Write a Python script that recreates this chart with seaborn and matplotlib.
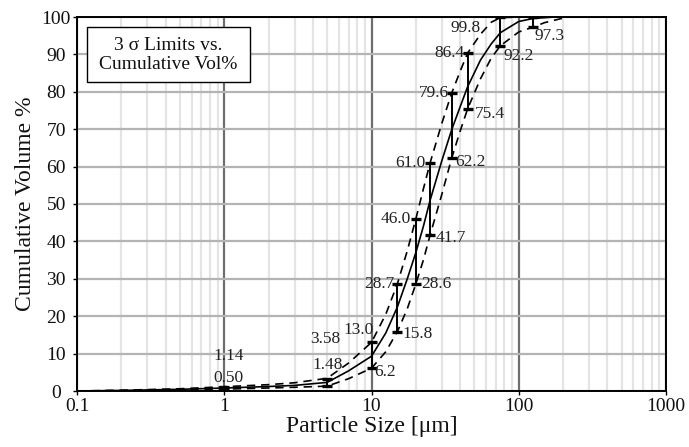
import numpy as np
import pandas as pd
import matplotlib
matplotlib.use("Agg")
import matplotlib.pyplot as plt
from matplotlib.patches import Rectangle
from matplotlib.ticker import FixedLocator, NullFormatter
import seaborn as sns

# ---------------- data ----------------
size_upper = [0.1, 0.2, 0.5, 1, 2, 3, 5, 7, 10, 12.5, 15, 17.5, 20, 22.5, 25,
              30, 35, 40, 45, 55, 65, 75, 100, 200, 1000]
vol_upper = [0.0, 0.2, 0.6, 1.14, 1.7, 2.2, 3.4, 7.5, 13.0, 20.5, 28.7, 37.5, 46.0,
             54.0, 61.0, 71.5, 79.6, 85.5, 90.4, 95.4, 98.6, 99.8, 100, 100, 100]

size_mid = [0.1, 0.2, 0.5, 1, 2, 3, 5, 7, 10, 12.5, 15, 17.5, 20, 22.5, 25,
            30, 35, 40, 45, 55, 65, 75, 100, 125, 175, 1000]
vol_mid = [0.0, 0.15, 0.45, 0.8, 1.2, 1.5, 2.3, 5.4, 9.3, 15.5, 22.5, 30.0, 37.0,
           44.0, 51.0, 61.5, 69.8, 76.0, 81.4, 88.5, 92.8, 95.8, 98.8, 99.6, 100, 100]

size_lower = [0.1, 0.2, 0.5, 1, 2, 3, 5, 7, 10, 12.5, 15, 17.5, 20, 22.5, 25,
              30, 35, 40, 45, 55, 65, 75, 100, 125, 150, 200, 215, 1000]
vol_lower = [0.0, 0.1, 0.3, 0.5, 0.8, 1.0, 1.3, 3.3, 6.1, 10.5, 15.9, 22.0, 28.6,
             35.0, 41.7, 52.5, 62.2, 69.5, 75.5, 83.5, 89.0, 92.3, 96.0, 97.3, 98.5,
             99.7, 100, 100]

bar_size = [1, 5, 10, 15, 20, 25, 35, 45, 75, 125]
bar_top = [1.14, 3.3, 13.0, 28.7, 46.0, 61.0, 79.6, 90.4, 99.9, 100.0]
bar_bottom = [0.50, 1.3, 6.2, 15.8, 28.6, 41.7, 62.2, 75.4, 92.2, 97.3]
top_labels = ["1.14", "3.58", "13.0", "28.7", "46.0", "61.0", "79.6", "86.4", "99.8", None]
bottom_labels = ["0.50", "1.48", "6.2", "15.8", "28.6", "41.7", "62.2", "75.4", "92.2", "97.3"]

x_ticks = [0.1, 1, 10, 100, 1000]
x_tick_labels = ["0.1", "1", "10", "100", "1000"]
y_ticks = [0, 10, 20, 30, 40, 50, 60, 70, 80, 90, 100]

# ---------------- style ----------------
sns.set_theme(style="white")
plt.rcParams["font.family"] = ["Liberation Serif", "DejaVu Serif"]

DPI = 100
fig = plt.figure(figsize=(6.89, 4.47), dpi=DPI)
ax = fig.add_axes([77 / 689, 1 - 391 / 447, 589 / 689, 374 / 447])

px = 72.0 / DPI  # points per pixel

# curves
df_u = pd.DataFrame({"size": size_upper, "vol": vol_upper})
df_m = pd.DataFrame({"size": size_mid, "vol": vol_mid})
df_l = pd.DataFrame({"size": size_lower, "vol": vol_lower})
dash = (0, (5, 3.5))
sns.lineplot(data=df_u, x="size", y="vol", ax=ax, color="black", lw=1.2,
             linestyle=dash, zorder=4)
sns.lineplot(data=df_m, x="size", y="vol", ax=ax, color="black", lw=1.2,
             linestyle="-", zorder=4)
sns.lineplot(data=df_l, x="size", y="vol", ax=ax, color="black", lw=1.2,
             linestyle=dash, zorder=4)

# error bars
ax.vlines(bar_size, bar_bottom, bar_top, color="black", lw=1.4, zorder=5)
ax.plot(bar_size, bar_top, ls="none", marker="_", ms=7, mew=2.4, color="black", zorder=5)
ax.plot(bar_size, bar_bottom, ls="none", marker="_", ms=7, mew=2.4, color="black", zorder=5)

# label offsets in pixels (dx, dy) and alignment
top_style = [((4, 31), "center"), ((-2, 40), "center"), ((2, 12), "right"),
             ((-3, 0), "right"), ((-5, 0), "right"), ((-5, 0), "right"),
             ((-3, 0), "right"), ((-3, 0), "right"), ((-20, -11), "right"), None]
bot_style = [((4, 11), "center"), ((0, 21), "center"), ((3, -4), "left"),
             ((5, -2), "left"), ((5, 0), "left"), ((6, -3), "left"),
             ((4, -4), "left"), ((7, -5), "left"), ((3, -10), "left"), ((1, -9), "left")]

for xs, yt, lab, st in zip(bar_size, bar_top, top_labels, top_style):
    if lab is None:
        continue
    (dx, dy), ha = st
    ax.annotate(lab, (xs, yt), xytext=(dx * px, dy * px), textcoords="offset points",
                ha=ha, va="center", fontsize=12.5, color="#222222", zorder=6)
for xs, yb, lab, st in zip(bar_size, bar_bottom, bottom_labels, bot_style):
    (dx, dy), ha = st
    ax.annotate(lab, (xs, yb), xytext=(dx * px, dy * px), textcoords="offset points",
                ha=ha, va="center", fontsize=12.5, color="#222222", zorder=6)

# axes
ax.set_xscale("log")
ax.set_xlim(0.1, 1000)
ax.set_ylim(0, 100)
ax.set_xticks(x_ticks)
ax.set_xticklabels(x_tick_labels)
minor = [m * 10.0 ** e for e in range(-1, 3) for m in range(2, 10)]
ax.xaxis.set_minor_locator(FixedLocator(minor))
ax.xaxis.set_minor_formatter(NullFormatter())
ax.set_yticks(y_ticks)

ax.grid(False)
ax.grid(True, which="major", axis="x", color="#6e6e6e", lw=1.6, zorder=1)
ax.grid(True, which="minor", axis="x", color="#e4e4e4", lw=1.6, zorder=0)
ax.grid(True, which="major", axis="y", color="#b4b4b4", lw=1.6, zorder=1)
ax.set_axisbelow(True)

for s in ax.spines.values():
    s.set_color("black")
    s.set_linewidth(1.4)

ax.tick_params(axis="x", which="major", labelsize=14, length=3, width=1,
               color="black", labelcolor="#111111", direction="out", pad=2,
               bottom=True)
ax.tick_params(axis="y", which="major", labelsize=14, length=3, width=1,
               color="black", labelcolor="#111111", direction="out", pad=12,
               left=True)
ax.tick_params(axis="x", which="minor", length=0)
for lab in ax.get_yticklabels():
    lab.set_horizontalalignment("center")

ax.set_xlabel("Particle Size [μm]", fontsize=17, color="#111111", labelpad=1)
ax.set_ylabel("Cumulative Volume %", fontsize=17, color="#111111", labelpad=4)

# title box
rect = Rectangle((10 / 589, (391 - 82) / 374), 163 / 589, 55 / 374,
                 transform=ax.transAxes, facecolor="white", edgecolor="black",
                 lw=1.0, zorder=7)
ax.add_patch(rect)
ax.text((168.5 - 77) / 589, (391 - 55) / 374, "3 σ Limits vs.\nCumulative Vol%",
        transform=ax.transAxes, ha="center", va="center", fontsize=14,
        color="#111111", linespacing=1.15, zorder=8)

fig.savefig("out.png", dpi=DPI)
